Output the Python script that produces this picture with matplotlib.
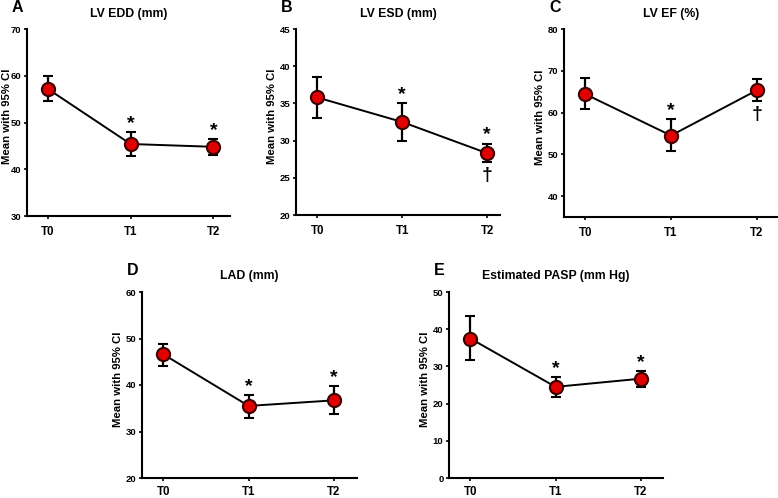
import matplotlib
matplotlib.use("Agg")
import matplotlib.pyplot as plt

plt.rcParams['font.family'] = ['Liberation Sans', 'DejaVu Sans']
plt.rcParams['font.weight'] = 'bold'

times = ["T0", "T1", "T2"]

# mean, lower CI, upper CI per panel
edd_mean = [57.2, 45.4, 44.8]
edd_low = [54.7, 42.9, 43.0]
edd_high = [59.9, 47.9, 46.5]

esd_mean = [35.8, 32.5, 28.3]
esd_low = [33.0, 30.0, 27.1]
esd_high = [38.6, 35.1, 29.6]

ef_mean = [64.4, 54.5, 65.3]
ef_low = [60.8, 50.7, 62.7]
ef_high = [68.2, 58.5, 68.0]

lad_mean = [46.6, 35.5, 36.7]
lad_low = [44.1, 33.0, 33.8]
lad_high = [48.9, 37.9, 39.7]

pasp_mean = [37.5, 24.5, 26.7]
pasp_low = [31.7, 21.7, 24.5]
pasp_high = [43.5, 27.2, 28.8]

W, H = 778, 498
fig = plt.figure(figsize=(W / 100, H / 100), dpi=100)


def px_axes(left, top, right, bottom):
    return fig.add_axes([left / W, 1 - bottom / H, (right - left) / W, (bottom - top) / H])


panels = [
    # letter, title, box(px), data, ylim, yticks, stars, daggers, xright
    ("A", "LV EDD (mm)", (27, 29, 230, 216), (edd_mean, edd_low, edd_high),
     (30, 70), range(30, 71, 10), ["", "*", "*"], ["", "", ""], 2.2),
    ("B", "LV ESD (mm)", (296, 29, 500, 215), (esd_mean, esd_low, esd_high),
     (20, 45), range(20, 46, 5), ["", "*", "*"], ["", "", "\u2020"], 2.15),
    ("C", "LV EF (%)", (564, 29, 778, 217), (ef_mean, ef_low, ef_high),
     (35, 80), range(40, 81, 10), ["", "*", ""], ["", "", "\u2020"], 2.25),
    ("D", "LAD (mm)", (142, 292, 357, 478), (lad_mean, lad_low, lad_high),
     (20, 60), range(20, 61, 10), ["", "*", "*"], ["", "", ""], 2.27),
    ("E", "Estimated PASP (mm Hg)", (449, 292, 663, 478), (pasp_mean, pasp_low, pasp_high),
     (0, 50), range(0, 51, 10), ["", "*", "*"], ["", "", ""], 2.26),
]

for letter, title, box, (mean, low, high), ylim, yticks, stars, daggers, xright in panels:
    ax = px_axes(*box)
    x = range(len(times))
    yerr = [[m - l for m, l in zip(mean, low)], [h - m for m, h in zip(mean, high)]]
    ax.errorbar(x, mean, yerr=yerr, color="black", lw=1.4, elinewidth=1.6,
                capsize=3.5, capthick=1.6, marker="o", ms=9.5, mfc="#e00000",
                mec="#3a0000", mew=1.5, zorder=3)
    ax.set_xlim(-0.25, xright)
    ax.set_ylim(*ylim)
    ax.set_yticks(list(yticks))
    ax.set_xticks(list(x))
    ax.set_xticklabels(times, fontsize=8.3, fontweight="bold")
    ax.tick_params(axis="y", labelsize=6.8, length=2.5, width=1.2, pad=1.5)
    # bottom row sits close to the image edge
    ax.tick_params(axis="x", length=2.5, width=1.2, pad=4.5 if box[3] < 300 else 3)
    for s in ["top", "right"]:
        ax.spines[s].set_visible(False)
    for s in ["left", "bottom"]:
        ax.spines[s].set_linewidth(1.5)
    ax.set_title(title, fontsize=8.8, fontweight="bold", pad=9)
    for i in x:
        if stars[i]:
            ax.annotate(stars[i], (i, high[i]), xytext=(0, 0), textcoords="offset pixels",
                        ha="center", va="bottom", fontsize=14, fontweight="bold")
        if daggers[i]:
            ax.annotate(daggers[i], (i, low[i]), xytext=(0, -5), textcoords="offset pixels",
                        ha="center", va="top", fontsize=14, fontweight="bold")
    # y label and panel letter in pixel positions
    fig.text(max(box[0] - 24, 7) / W, 1 - ((box[1] + box[3]) / 2 - 6) / H, "Mean with 95% CI",
             rotation=90, fontsize=8.2, fontweight="bold", ha="center", va="center")
    fig.text((box[0] - 15) / W, 1 - (box[1] - 17) / H, letter, fontsize=11.5,
             fontweight="bold", ha="left", va="baseline")

fig.savefig("out.png", dpi=100)
